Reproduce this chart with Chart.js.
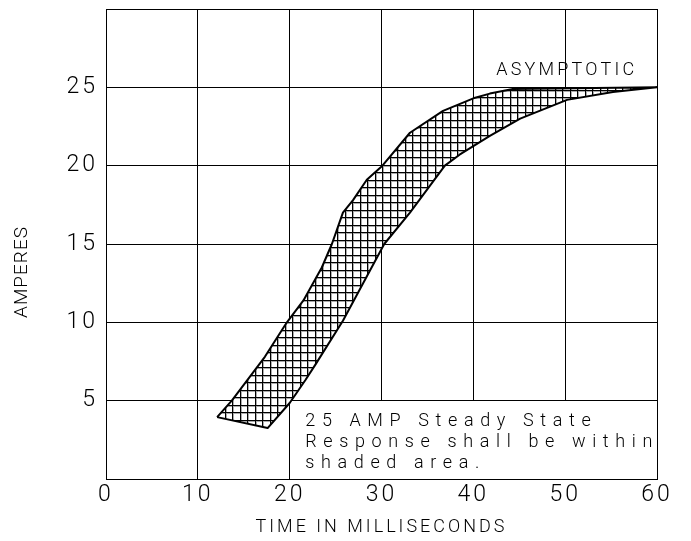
<!DOCTYPE html>
<html>
<head>
<meta charset="utf-8">
<script src="https://cdn.jsdelivr.net/npm/chart.js@4.4.0/dist/chart.umd.min.js"></script>
<style>
  html, body { margin: 0; padding: 0; background: #fff; }
  #wrap { width: 691px; height: 541px; position: relative; }
  canvas { display: block; }
</style>
</head>
<body>
<div id="wrap"><canvas id="c" width="691" height="541" style="width:691px;height:541px"></canvas></div>
<script>
// ---------- data ----------
const xTicks = [0, 10, 20, 30, 40, 50, 60];
const yTicks = [5, 10, 15, 20, 25];
// upper (left) boundary of the permitted band
const upperX = [12.1, 13.7, 17.3, 19.7, 21.5, 23.5, 24.6, 25.8, 26.9, 28.4, 30.1, 33.1, 36.7, 40.0, 41.8, 44.3, 60];
const upperY = [3.95, 5.0, 7.8, 10.0, 11.4, 13.5, 15.0, 17.0, 17.8, 19.1, 20.0, 22.1, 23.5, 24.3, 24.6, 24.9, 25];
// lower (right) boundary of the permitted band
const lowerX = [17.6, 20.0, 21.7, 22.8, 25.8, 30.3, 33.1, 36.9, 38.5, 41.8, 45.1, 50.2, 55.2, 60];
const lowerY = [3.25, 4.85, 6.3, 7.3, 10.1, 15.0, 17.0, 20.0, 20.7, 21.9, 23.0, 24.2, 24.7, 25];
// note box extent (x0, x1, y0, y1) and its text
const noteBox = [20, 60, 0, 5];
const noteLines = ['25 AMP Steady State', 'Response shall be within', 'shaded area.'];
const asymLabel = 'ASYMPTOTIC';
const xTitle = 'TIME IN MILLISECONDS';
const yTitle = 'AMPERES';

// ---------- build polygon ----------
const band = [];
upperX.forEach((x, i) => band.push({ x: x, y: upperY[i] }));
for (let i = lowerX.length - 1; i >= 0; i--) band.push({ x: lowerX[i], y: lowerY[i] });
band.push({ x: upperX[0], y: upperY[0] });

const FONT = "Roboto, 'DejaVu Sans', sans-serif";
const AXIS_LS = '3px';

function makeHatch() {
  const c = document.createElement('canvas');
  c.width = 15; c.height = 15;
  const g = c.getContext('2d');
  g.fillStyle = '#fff'; g.fillRect(0, 0, 15, 15);
  g.fillStyle = '#aaa';
  g.fillRect(1, 0, 1, 15); g.fillRect(8, 0, 1, 15);
  g.fillRect(0, 1, 15, 1); g.fillRect(0, 8, 15, 1);
  g.fillStyle = '#000';
  g.fillRect(0, 0, 1, 15); g.fillRect(7, 0, 1, 15);
  g.fillRect(0, 0, 15, 1); g.fillRect(0, 7, 15, 1);
  return g.createPattern(c, 'repeat');
}

const spacingPlugin = {
  id: 'spacing',
  beforeUpdate(chart) { chart.ctx.letterSpacing = AXIS_LS; },
  beforeRender(chart) { chart.ctx.letterSpacing = AXIS_LS; },
  beforeDraw(chart) { chart.ctx.letterSpacing = AXIS_LS; }
};

function fitSpacing(ctx, text, target) {
  ctx.letterSpacing = '0px';
  const w = ctx.measureText(text).width;
  return Math.max(0, (target - w) / (text.length - 1));
}

const annotPlugin = {
  id: 'annot',
  beforeDatasetsDraw(chart) {
    const { ctx, scales: { x, y } } = chart;
    const l = Math.floor(x.getPixelForValue(noteBox[0])) + 1;
    const r = Math.floor(x.getPixelForValue(noteBox[1])) - 1;
    const t = Math.floor(y.getPixelForValue(noteBox[3])) + 1;
    const b = Math.floor(y.getPixelForValue(noteBox[2])) - 1;
    ctx.save();
    ctx.fillStyle = '#fff';
    ctx.fillRect(l, t, r - l + 1, b - t + 1);
    ctx.restore();
  },
  afterDatasetsDraw(chart) {
    const { ctx, scales: { x, y } } = chart;
    ctx.save();
    ctx.fillStyle = '#000';
    ctx.font = '300 18px ' + FONT;
    let ls = fitSpacing(ctx, asymLabel, 138);
    ctx.letterSpacing = ls + 'px';
    ctx.textAlign = 'center';
    ctx.textBaseline = 'alphabetic';
    ctx.fillText(asymLabel, x.getPixelForValue(50) + ls / 2, y.getPixelForValue(25.8));
    ls = fitSpacing(ctx, noteLines[1], 347);
    ctx.letterSpacing = ls + 'px';
    ctx.textAlign = 'left';
    const bases = [3.38, 2.04, 0.70];
    noteLines.forEach((s, i) => ctx.fillText(s, x.getPixelForValue(21.7), y.getPixelForValue(bases[i])));
    ctx.restore();
  },
  afterDraw(chart) {
    const ctx = chart.ctx;
    ctx.save();
    ctx.letterSpacing = '1px';
    ctx.fillStyle = '#000';
    ctx.font = '300 19px ' + FONT;
    ctx.translate(22, 272);
    ctx.rotate(-Math.PI / 2);
    ctx.textAlign = 'center';
    ctx.textBaseline = 'middle';
    ctx.fillText(yTitle, 0, 0);
    ctx.restore();
  }
};

const canvas = document.getElementById('c');
new Chart(canvas, {
  type: 'line',
  data: {
    datasets: [{
      data: band,
      fill: 'shape',
      backgroundColor: makeHatch(),
      borderColor: '#000',
      borderWidth: 2,
      pointRadius: 0,
      tension: 0,
      borderJoinStyle: 'round'
    }]
  },
  options: {
    responsive: false,
    maintainAspectRatio: false,
    animation: false,
    devicePixelRatio: 1,
    layout: { padding: { left: 0, right: 34, top: 9, bottom: 0 } },
    plugins: { legend: { display: false }, tooltip: { enabled: false } },
    scales: {
      x: {
        type: 'linear', min: 0, max: 60,
        afterFit(s) { s.height = 62; s.paddingLeft = 0; s.paddingRight = 0; },
        ticks: {
          stepSize: 10, color: '#000', padding: 2, maxRotation: 0,
          font: { family: FONT, size: 23, weight: 300 },
          callback: v => xTicks.includes(v) ? String(v) : ''
        },
        grid: { color: '#000', lineWidth: 1, drawTicks: false },
        border: { color: '#000', width: 1 },
        title: {
          display: true, text: xTitle, color: '#000',
          font: { family: FONT, size: 18, weight: 300 },
          padding: { top: 0, bottom: 3 }
        }
      },
      y: {
        type: 'linear', min: 0, max: 30,
        afterFit(s) { s.width = 106; s.paddingTop = 0; s.paddingBottom = 0; },
        ticks: {
          stepSize: 5, color: '#000', padding: 8,
          font: { family: FONT, size: 23, weight: 300 },
          callback: v => yTicks.includes(v) ? String(v) : ''
        },
        grid: { color: '#000', lineWidth: 1, drawTicks: false },
        border: { color: '#000', width: 1 }
      }
    }
  },
  plugins: [spacingPlugin, annotPlugin]
});
</script>
</body>
</html>
